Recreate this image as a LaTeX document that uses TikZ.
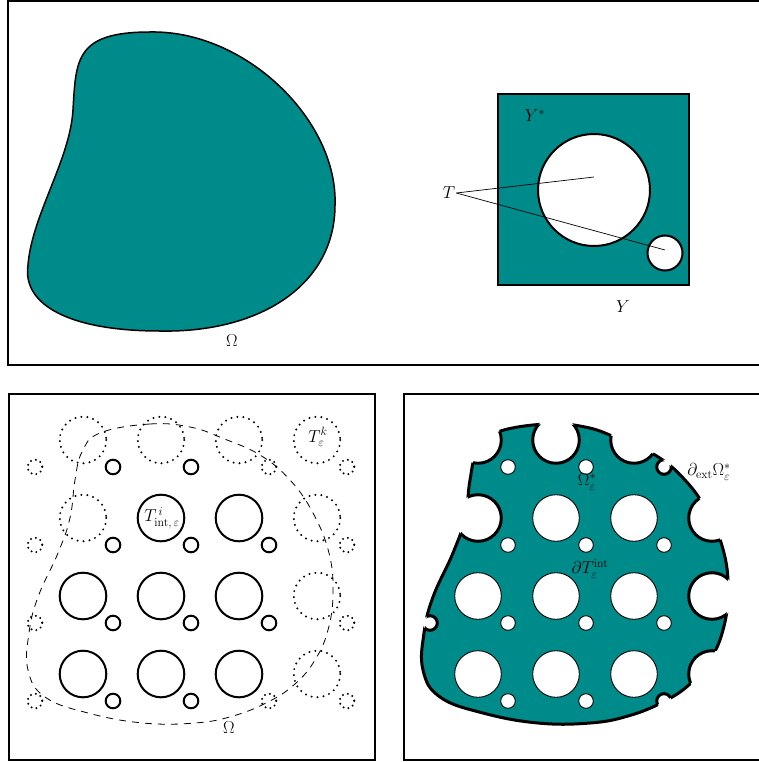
\documentclass[tikz,border=0pt]{standalone}
\usetikzlibrary{positioning}
\definecolor{myteal}{RGB}{0,139,139}
\tikzset{
  lbl/.style={font=\fontsize{18}{21}\selectfont, inner sep=1pt},
  frame/.style={line width=1.8pt},
  holeline/.style={line width=2pt},
  thinhole/.style={line width=0.9pt},
  notchline/.style={line width=3pt},
  dotcirc/.style={line width=2.2pt, line cap=round, dash pattern=on 0pt off 6pt},
  omegadash/.style={line width=0.8pt, dash pattern=on 7pt off 6pt},
}
% the domain Omega of the lower panels
\newcommand{\omegapath}{plot[smooth cycle, tension=0.7] coordinates {(100,433) (150,424) (190,427) (222,438) (260,455) (290,480) (313,513) (329,553) (333,593) (328,630) (315,660) (295,684) (268,702) (233,716) (195,723) (143,723) (88,713) (45,697) (28,670) (29,633) (38,597) (58,553) (70,518) (75,480) (82,452)}}

\begin{document}
\begin{tikzpicture}[x=1pt, y=-1pt]
\useasboundingbox (0,0) rectangle (759,762);
\clip (0,0) rectangle (759,762);
% Frames
\draw[frame] (8,1) rectangle (770,365);
\draw[frame] (9,394) rectangle (375,760);
\draw[frame] (404,394) rectangle (770,760);

% Top panel: Omega
\filldraw[fill=myteal, line width=1.5pt] (150,32)
  .. controls (245,30) and (338,120) .. (335,205)
  .. controls (335,285) and (260,333) .. (160,331)
  .. controls (70,331) and (22,305) .. (28,265)
  .. controls (32,215) and (70,160) .. (73,110)
  .. controls (76,60) and (75,32) .. cycle;
\node[lbl] (omegaTop) at (232,341) {$\Omega$};

% Top panel: cell Y
\filldraw[fill=myteal, line width=1.5pt] (498,94) rectangle (689,285);
\filldraw[fill=white, holeline] (594,190) circle (56);
\filldraw[fill=white, holeline] (665,253) circle (17.5);
\coordinate (tipA) at (594,177);
\coordinate (tipB) at (665,250);
\node[lbl] (ystarLbl) at (535,116) {$Y^*$};
\node[lbl] (tLbl) at (449,193) {$T$};
\node[lbl] (yLbl) at (623,307) {$Y$};
\draw[line width=0.7pt] (tLbl.east) -- (tipA);
\draw[line width=0.7pt] (tLbl.east) -- (tipB);

% Lower left: holes
\foreach \i/\j in {1/1, 2/1, 0/2, 1/2, 2/2, 0/3, 1/3, 2/3}
  \draw[holeline] ({83+78*\i},{440+78*\j}) circle (23.3);
\foreach \i/\j in {0/0, 1/0, 2/0, 3/0, 0/1, 3/1, 3/2, 3/3}
  \draw[dotcirc] ({83+78*\i},{440+78*\j}) circle (23.3);
\foreach \i/\j in {0/0, 1/0, 0/1, 1/1, 2/1, 0/2, 1/2, 2/2, 0/3, 1/3}
  \draw[holeline] ({113+78*\i},{467+78*\j}) circle (7.3);
\foreach \i/\j in {-1/0, 2/0, 3/0, -1/1, 3/1, -1/2, 3/2, -1/3, 2/3, 3/3}
  \draw[dotcirc, dash pattern=on 0pt off 5pt] ({113+78*\i},{467+78*\j}) circle (7.3);
\draw[omegadash] \omegapath;
\node[lbl] (tkLbl) at (318,437) {$T^k_\varepsilon$};
\node[lbl] (tiLbl) at (162,518) {$T^{\,i}_{\mathrm{int},\,\varepsilon}$};
\node[lbl] (omegaLow) at (229,728) {$\Omega$};

% Lower right: perforated domain
\begin{scope}[xshift=395pt]
  \filldraw[fill=myteal, notchline] \omegapath;
  \foreach \i in {0,...,3} \foreach \j in {0,...,3}
    \fill[white] ({83+78*\i},{440+78*\j}) circle (23.3);
  \foreach \i in {-1,...,3} \foreach \j in {0,...,3}
    \fill[white] ({113+78*\i},{467+78*\j}) circle (7.3);
  \begin{scope}
    \clip \omegapath;
    \foreach \i/\j in {1/1, 2/1, 0/2, 1/2, 2/2, 0/3, 1/3, 2/3}
      \draw[thinhole] ({83+78*\i},{440+78*\j}) circle (23.3);
    \foreach \i/\j in {0/0, 1/0, 0/1, 1/1, 2/1, 0/2, 1/2, 2/2, 0/3, 1/3}
      \draw[thinhole] ({113+78*\i},{467+78*\j}) circle (7.3);
    \foreach \i/\j in {0/0, 1/0, 2/0, 0/1, 3/1, 3/2, 3/3}
      \draw[notchline] ({83+78*\i},{440+78*\j}) circle (23.3);
    \foreach \i/\j in {2/0, 2/3, -1/2}
      \draw[notchline] ({113+78*\i},{467+78*\j}) circle (7.3);
  \end{scope}
  \node[lbl] (omegaStar) at (192,482) {$\Omega^*_\varepsilon$};
  \node[lbl] (dTint) at (195,569) {$\partial T^{\mathrm{int}}_\varepsilon$};
  \node[lbl] (dExt) at (314,472) {$\partial_{\mathrm{ext}}\Omega^*_\varepsilon$};
\end{scope}
\end{tikzpicture}
\end{document}
